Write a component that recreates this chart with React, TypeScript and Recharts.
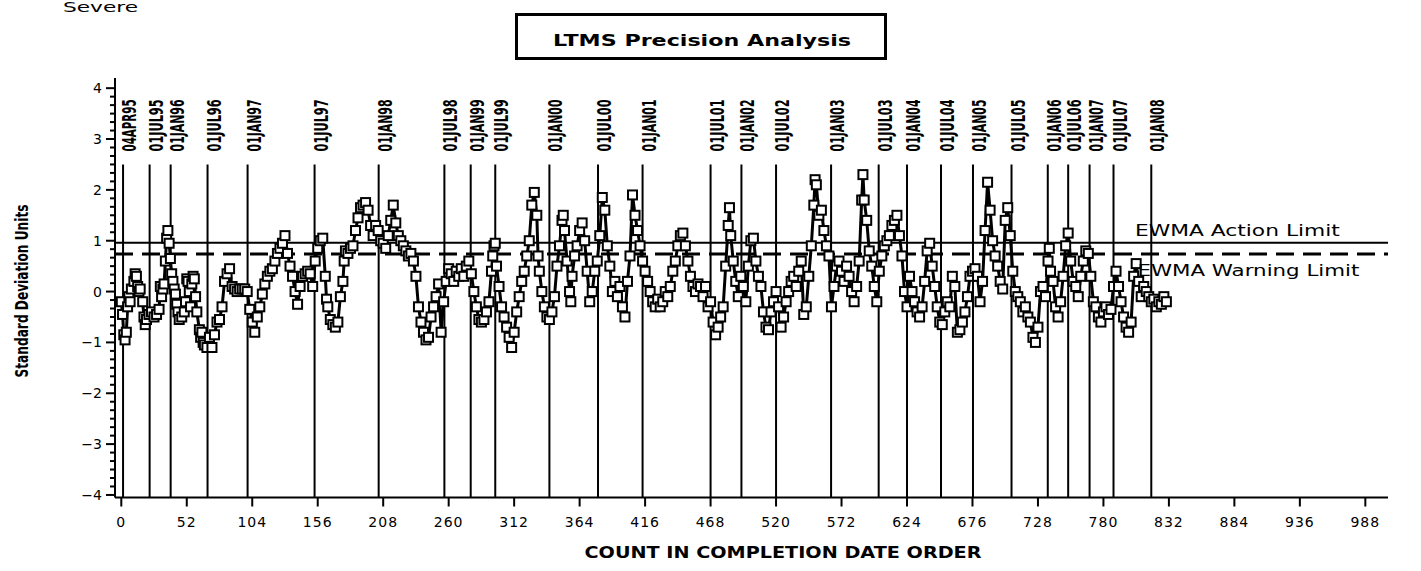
import React from 'react';
import { LineChart, Line, XAxis, YAxis, ReferenceLine, ReferenceDot } from 'recharts';

// x axis ticks (count in completion date order)
const xTicks = [0, 52, 104, 156, 208, 260, 312, 364, 416, 468, 520, 572, 624, 676, 728, 780, 832, 884, 936, 988];
const yMajorTicks = [-4, -3, -2, -1, 0, 1, 2, 3, 4];

// calendar reference lines (count position) and their labels
const dateLines = [1.4, 22.5, 39.2, 68.5, 100.3, 153.5, 204.4, 256.6, 277.5, 297, 340, 378.6, 414, 468, 492.5, 520, 563.7, 601.5, 624, 651, 676.4, 707, 735.8, 752, 769, 788, 818];
const dateLabels = ['04APR95', '01JUL95', '01JAN96', '01JUL96', '01JAN97', '01JUL97', '01JAN98', '01JUL98', '01JAN99', '01JUL99', '01JAN00', '01JUL00', '01JAN01', '01JUL01', '01JAN02', '01JUL02', '01JAN03', '01JUL03', '01JAN04', '01JUL04', '01JAN05', '01JUL05', '01JAN06', '01JUL06', '01JAN07', '01JUL07', '01JAN08'];

const actionLimit = 0.96;
const warningLimit = 0.74;

// EWMA values: [count, standard deviation units]
const ewmaPoints: [number, number][] = [
  [0, -0.2], [1, -0.45], [2, -0.85], [3, -0.95], [4, -0.8], [5, -0.3], [6, -0.1], [7, -0.2], [8, 0.05], [10, 0.2],
  [11, 0.35], [12, 0.3], [13, 0.1], [14, 0.0], [15, 0.05], [17, -0.2], [18, -0.5], [19, -0.65], [20, -0.55], [22, -0.45],
  [24, -0.4], [26, -0.5], [28, -0.45], [30, -0.35], [31, 0.1], [32, -0.1], [33, 0.05], [34, 0.15], [35, 0.6], [36, 1.05],
  [37, 1.2], [38, 0.95], [39, 0.65], [40, 0.35], [41, 0.2], [42, 0.05], [43, -0.05], [44, -0.25], [45, -0.4], [46, -0.55],
  [48, -0.5], [50, -0.4], [51, -0.2], [52, 0.25], [53, 0.2], [54, 0.0], [55, -0.3], [56, 0.15], [57, 0.3], [58, 0.25],
  [59, -0.1], [60, -0.4], [62, -0.75], [63, -0.9], [64, -0.8], [65, -1.0],
  [66, -1.05], [68, -1.1], [70, -0.9], [72, -1.1], [74, -0.85], [76, -0.6], [78, -0.55], [80, -0.3], [82, 0.2], [84, 0.35],
  [86, 0.45], [88, 0.1], [90, 0.05], [92, 0.0], [94, 0.05], [96, 0.05], [98, 0.05], [100, 0.0], [102, -0.35], [104, -0.6],
  [106, -0.8], [108, -0.5], [110, -0.3], [112, -0.05], [114, 0.15], [116, 0.3], [118, 0.4], [120, 0.45], [122, 0.6], [124, 0.75],
  [126, 0.85], [128, 0.95], [130, 1.1], [132, 0.75], [134, 0.5], [136, 0.3], [138, 0.0], [140, -0.25], [142, 0.1], [144, 0.3],
  [146, 0.35], [148, 0.4], [150, 0.35], [152, 0.1], [154, 0.6], [156, 0.85], [158, 1.0], [160, 1.05],
  [162, 0.3], [163, -0.15], [164, -0.3], [166, -0.55], [168, -0.65], [170, -0.7], [172, -0.6], [174, -0.1], [176, 0.2], [177, 0.6],
  [178, 0.8], [180, 0.75], [182, 0.85], [184, 0.9], [186, 1.2], [188, 1.45], [190, 1.65], [192, 1.7], [194, 1.75], [196, 1.6],
  [198, 1.3], [200, 1.1], [202, 1.3], [204, 1.2], [206, 1.0], [208, 0.95], [210, 0.85], [212, 1.1], [214, 1.4], [216, 1.7],
  [218, 1.35], [220, 1.1], [222, 1.0], [224, 0.9], [226, 0.8], [228, 0.7], [230, 0.75], [232, 0.6], [234, 0.3], [236, -0.3],
  [238, -0.6], [240, -0.8], [242, -0.95],
  [244, -0.9], [246, -0.5], [248, -0.3], [250, -0.1], [252, 0.15], [254, -0.8], [256, -0.2], [258, 0.2], [260, 0.45], [262, 0.35],
  [264, 0.2], [266, 0.4], [268, 0.3], [270, 0.45], [272, 0.3], [274, 0.5], [276, 0.6], [278, 0.35], [280, 0.0], [282, -0.3],
  [284, -0.55], [286, -0.6], [288, -0.55], [290, -0.4], [292, -0.2], [294, 0.4], [295, 0.7], [296, 0.9], [297, 0.95], [298, 0.5],
  [300, 0.1], [302, -0.3], [304, -0.5], [306, -0.7], [308, -0.9], [310, -1.1], [312, -0.8], [314, -0.4], [316, -0.1], [318, 0.2],
  [320, 0.4], [322, 0.7], [324, 1.0], [326, 1.7], [328, 1.95],
  [330, 1.5], [331, 0.7], [332, 0.4], [334, 0.0], [336, -0.3], [338, -0.5], [340, -0.55], [342, -0.4], [344, -0.1], [346, 0.5],
  [348, 0.9], [350, 1.4], [351, 1.5], [352, 1.2], [354, 0.6], [356, 0.0], [357, -0.2], [358, 0.3], [360, 0.7], [362, 0.9],
  [364, 1.2], [366, 1.35], [368, 1.0], [370, 0.4], [372, -0.2], [374, 0.0], [376, 0.4], [378, 0.6], [380, 1.1], [382, 1.85],
  [384, 1.6], [386, 0.9], [388, 0.5], [390, 0.0], [392, 0.2], [394, -0.1], [396, 0.1], [398, -0.3], [400, -0.5], [402, 0.2],
  [404, 0.7], [406, 1.9], [408, 1.5],
  [410, 1.2], [412, 0.9], [414, 0.6], [416, 0.4], [418, 0.2], [420, 0.0], [422, -0.2], [424, -0.3], [426, -0.15], [428, -0.3],
  [430, -0.2], [432, 0.0], [434, -0.1], [436, 0.1], [438, 0.4], [440, 0.6], [442, 0.9], [444, 1.1], [446, 1.15], [448, 0.9],
  [450, 0.6], [452, 0.3], [454, 0.1], [456, 0.0], [458, 0.15], [460, 0.1], [462, -0.1], [464, 0.1], [466, -0.3], [468, -0.2],
  [470, -0.6], [472, -0.85], [474, -0.7], [476, -0.5], [478, -0.3], [480, 0.5], [482, 1.3], [483, 1.65], [484, 1.1], [486, 0.6],
  [488, 0.2], [490, -0.1], [492, 0.3],
  [494, 0.1], [496, -0.2], [498, 0.5], [500, 1.0], [502, 1.05], [504, 0.6], [506, 0.3], [508, 0.1], [510, -0.4], [512, -0.7],
  [514, -0.75], [516, -0.4], [518, -0.2], [520, 0.0], [522, -0.3], [524, -0.7], [526, -0.5], [528, -0.2], [530, 0.0], [532, 0.2],
  [534, 0.3], [536, 0.1], [538, 0.4], [540, 0.6], [542, -0.45], [544, -0.3], [546, 0.3], [548, 0.9], [550, 1.7], [551, 2.2],
  [552, 2.1], [554, 1.5], [556, 1.6], [558, 1.2], [560, 0.9], [562, 0.7], [564, -0.3], [566, 0.1], [568, 0.5], [570, 0.6],
  [572, 0.4], [574, 0.2], [576, 0.5], [578, 0.3],
  [580, 0.0], [582, -0.2], [584, 0.1], [586, 0.6], [588, 1.8], [589, 2.3], [590, 1.8], [592, 1.4], [594, 0.8], [596, 0.5],
  [598, 0.1], [600, -0.2], [602, 0.4], [604, 0.7], [606, 0.9], [608, 1.0], [610, 1.1], [612, 1.3], [614, 1.4], [616, 1.5],
  [618, 1.1], [620, 0.7], [622, 0.0], [624, -0.3], [626, 0.3], [628, 0.0], [630, -0.2], [632, -0.4], [634, -0.5], [636, -0.3],
  [638, 0.2], [640, 0.8], [642, 0.95], [644, 0.5], [646, 0.1], [648, -0.3], [650, -0.6], [652, -0.65], [654, -0.4], [656, -0.2],
  [658, -0.3], [660, 0.3], [662, 0.1], [664, -0.8], [666, -0.75], [668, -0.6], [670, -0.4], [672, -0.1], [674, 0.3], [676, 0.4],
  [678, 0.45], [680, 0.3], [682, -0.2], [684, 0.2], [686, 1.2], [688, 2.15], [690, 1.6], [692, 1.0], [694, 0.7], [696, 0.5],
  [698, 0.2], [700, 0.05], [702, 1.4], [704, 1.65], [706, 1.1], [708, 0.4], [710, 0.0], [712, -0.1], [714, -0.2], [716, -0.4],
  [718, -0.3], [720, -0.5], [722, -0.6], [724, -0.9], [726, -1.0], [728, -0.7], [730, 0.0], [732, 0.1], [734, -0.1], [736, 0.6],
  [737, 0.85], [738, 0.4],
  [740, 0.2], [742, -0.3], [744, -0.5], [746, -0.2], [748, 0.3], [750, 0.9], [752, 1.15], [754, 0.6], [756, 0.2], [758, 0.1],
  [760, -0.1], [762, 0.3], [764, 0.6], [766, 0.8], [768, 0.75], [770, 0.3], [772, -0.2], [774, -0.3], [776, -0.5], [778, -0.6],
  [780, -0.4], [782, -0.3], [784, -0.45], [786, -0.35], [788, 0.1], [790, 0.4], [792, 0.1], [794, -0.2], [796, -0.5], [798, -0.7],
  [800, -0.8], [802, -0.6], [804, 0.3], [806, 0.55], [808, 0.2], [810, -0.1], [812, 0.1], [814, 0.0], [816, -0.1], [818, -0.2],
  [820, -0.15], [822, -0.3], [824, -0.2], [826, -0.25], [828, -0.1], [830, -0.2],
];

const data = ewmaPoints.map(([count, v]) => ({ count, v }));

// major ticks plus 5 minor ticks in between
const yTicks: number[] = [];
yMajorTicks.forEach((t, i) => {
  yTicks.push(t);
  if (i < yMajorTicks.length - 1) {
    for (let k = 1; k < 6; k++) yTicks.push(t + k / 6);
  }
});

const axisFont = '"DejaVu Sans", Verdana, sans-serif';
const narrowFont = '"Liberation Sans Narrow", "DejaVu Sans Condensed", "Liberation Sans", Arial, sans-serif';

const YTick = (props: any) => {
  const { x, y, payload } = props;
  const v = payload.value;
  const major = Math.abs(v - Math.round(v)) < 1e-6;
  return (
    <g>
      <line x1={x - (major ? 9 : 5)} x2={x} y1={y} y2={y} stroke="#000" strokeWidth={2} />
      {major && (
        <text x={x - 13} y={y + 5} textAnchor="end" fontSize={14} fontFamily={axisFont} fill="#000">
          {Math.round(v) < 0 ? `\u2212${Math.abs(Math.round(v))}` : Math.round(v)}
        </text>
      )}
    </g>
  );
};

const XTick = (props: any) => {
  const { x, y, payload } = props;
  return (
    <g>
      <line x1={x} x2={x} y1={y} y2={y + 9} stroke="#000" strokeWidth={2} />
      <text x={x} y={y + 29} textAnchor="middle" fontSize={14} letterSpacing={1} fontFamily={axisFont} fill="#000">
        {payload.value}
      </text>
    </g>
  );
};

const Square = (props: any) => {
  const { cx, cy, index } = props;
  if (cx == null || cy == null) return <g key={index} />;
  return <rect key={index} x={cx - 4.5} y={cy - 4.5} width={9} height={9} fill="#fff" stroke="#000" strokeWidth={2} />;
};

export default function App() {
  return (
    <div style={{ position: 'absolute', left: 0, top: 0, width: 1421, height: 571, background: '#fff' }}>
      <LineChart
        width={1421}
        height={571}
        data={data}
        margin={{ top: 78, right: 33, bottom: 43.5, left: 55 }}
      >
        <XAxis
          type="number"
          dataKey="count"
          domain={[-5, 1006]}
          ticks={xTicks}
          interval={0}
          allowDataOverflow
          height={30}
          tickSize={0}
          tickMargin={0}
          tickLine={false}
          axisLine={{ stroke: '#000', strokeWidth: 2 }}
          tick={<XTick />}
        />
        <YAxis
          type="number"
          domain={[-4.05, 4.2]}
          ticks={yTicks}
          interval={0}
          allowDataOverflow
          width={60}
          tickSize={0}
          tickMargin={0}
          tickLine={false}
          axisLine={{ stroke: '#000', strokeWidth: 2 }}
          tick={<YTick />}
        />
        {dateLines.map((d, i) => (
          <ReferenceLine
            key={`dl-${i}`}
            segment={[{ x: d, y: 2.5 }, { x: d, y: -4.05 }]}
            stroke="#000"
            strokeWidth={2}
          />
        ))}
        {dateLines.map((d, i) => (
          <ReferenceDot
            key={`dt-${i}`}
            x={d}
            y={2.5}
            r={0}
            ifOverflow="visible"
            shape={(p: any) => (
              <text
                transform={`translate(${p.cx + 13}, ${p.cy - 13}) rotate(-90)`}
                fontSize={19}
                fontWeight="bold"
                fontFamily={narrowFont}
                textLength={52}
                lengthAdjust="spacingAndGlyphs"
                fill="#000"
              >
                {dateLabels[i]}
              </text>
            )}
          />
        ))}
        <ReferenceLine y={actionLimit} stroke="#000" strokeWidth={2} />
        <ReferenceLine y={warningLimit} stroke="#000" strokeWidth={3} strokeDasharray="18 9" />
        <Line
          type="linear"
          dataKey="v"
          stroke="#000"
          strokeWidth={3}
          dot={(p: any) => <Square key={p.index} {...p} />}
          activeDot={false}
          isAnimationActive={false}
        />
        <ReferenceDot
          x={805}
          y={actionLimit}
          r={0}
          ifOverflow="visible"
          shape={(p: any) => (
            <text x={p.cx} y={p.cy - 7} fontSize={15} fontFamily={axisFont} textLength={205} lengthAdjust="spacingAndGlyphs" fill="#000">
              EWMA Action Limit
            </text>
          )}
        />
        <ReferenceDot
          x={807}
          y={warningLimit}
          r={0}
          ifOverflow="visible"
          shape={(p: any) => (
            <text x={p.cx} y={p.cy + 22} fontSize={15} fontFamily={axisFont} textLength={222} lengthAdjust="spacingAndGlyphs" fill="#000">
              EWMA Warning Limit
            </text>
          )}
        />
      </LineChart>
      <svg width={1421} height={571} style={{ position: 'absolute', left: 0, top: 0, pointerEvents: 'none' }}>
        <text x={63} y={12} fontSize={14} fontFamily={axisFont} textLength={75} lengthAdjust="spacingAndGlyphs" fill="#000">
          Severe
        </text>
        <rect x={516.5} y={14.5} width={369} height={44} fill="none" stroke="#000" strokeWidth={3} />
        <text x={702} y={45.5} textAnchor="middle" fontSize={15} fontWeight="bold" fontFamily={axisFont} textLength={298} lengthAdjust="spacingAndGlyphs" fill="#000">
          LTMS Precision Analysis
        </text>
        <text
          transform="translate(28, 291) rotate(-90)"
          textAnchor="middle"
          fontSize={18}
          fontWeight="bold"
          fontFamily={narrowFont}
          textLength={173}
          lengthAdjust="spacingAndGlyphs"
          fill="#000"
        >
          Standard Deviation Units
        </text>
        <text x={783} y={558} textAnchor="middle" fontSize={16} fontWeight="bold" fontFamily={axisFont} textLength={397} lengthAdjust="spacingAndGlyphs" fill="#000">
          COUNT IN COMPLETION DATE ORDER
        </text>
      </svg>
    </div>
  );
}
